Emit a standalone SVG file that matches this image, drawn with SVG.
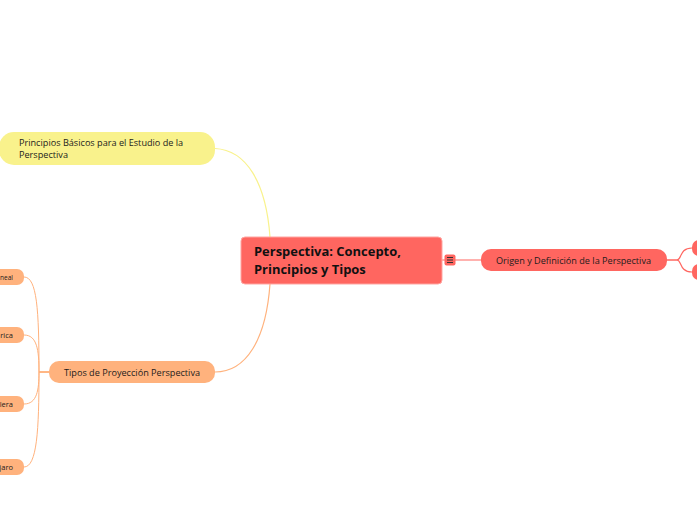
<svg xmlns="http://www.w3.org/2000/svg" width="697" height="520" viewBox="0 0 697 520">
<style>
text{font-family:"Open Sans","Noto Sans",sans-serif;fill:#1c1c1c}
.t{font-size:9.150px}
.s{font-size:7.5px}
.c{fill:none;stroke-width:1.200}
.d{fill:none;stroke-width:1}
</style>
<rect width="697" height="520" fill="#fff"/>
<g id="connectors">
<path class="c" stroke="#f9f28c" d="M215 148.500C246 150 266 182 270 237"/>
<path class="c" stroke="#ffb27d" d="M215 372C246 372 266 340 270 284"/>
<path class="c" stroke="#ff6660" d="M442 260H481"/>
<path class="c" stroke="#ff6660" d="M667 260H677C682 260 679 248 692 248"/>
<path class="c" stroke="#ff6660" d="M667 260H677C682 260 679 272 692 272"/>
<path class="d" stroke="#ffb27d" d="M49 372H39C39 310 37 277 24 277"/>
<path class="d" stroke="#ffb27d" d="M49 372H39C39 350 37 335 24 335"/>
<path class="d" stroke="#ffb27d" d="M49 372H39C39 390 37 404 24 404"/>
<path class="d" stroke="#ffb27d" d="M49 372H39C39 430 37 467 24 467"/>
</g>
<g id="central">
<rect x="241" y="237" width="201" height="47" rx="4" fill="#ff6660" stroke="#ffa5a1"/>
<text x="254" y="256" font-size="12.950" font-weight="700" style="fill:#111">Perspectiva: Concepto,</text>
<text x="254" y="274" font-size="12.950" font-weight="700" style="fill:#111">Principios y Tipos</text>
</g>
<g id="collapse">
<rect x="444.500" y="254.500" width="11" height="11" rx="2" fill="#ff6660"/>
<path d="M447 257.500H453M447 260H453M447 262.500H453" stroke="#333" stroke-width="1"/>
</g>
<g id="principios">
<rect x="-1" y="132" width="216" height="33" rx="15" fill="#f9f28c"/>
<text class="t" x="19" y="146">Principios Básicos para el Estudio de la</text>
<text class="t" x="19" y="158">Perspectiva</text>
</g>
<g id="tipos">
<rect x="49" y="361" width="166" height="22" rx="10" fill="#ffb27d"/>
<text class="t" x="64" y="376">Tipos de Proyección Perspectiva</text>
</g>
<g id="origen">
<rect x="481" y="249" width="186" height="22" rx="10" fill="#ff6660"/>
<text class="t" x="496" y="264">Origen y Definición de la Perspectiva</text>
</g>
<g id="origen-1"><rect x="692" y="240" width="30" height="16" rx="7" fill="#ff6660"/></g>
<g id="origen-2"><rect x="692" y="264" width="30" height="16" rx="7" fill="#ff6660"/></g>
<g id="tipo-1">
<rect x="-30" y="269" width="54" height="16" rx="7" fill="#ffb27d"/>
<text class="s" x="0" y="280" textLength="13" lengthAdjust="spacingAndGlyphs">neal</text>
</g>
<g id="tipo-2">
<rect x="-30" y="327" width="54" height="16" rx="7" fill="#ffb27d"/>
<text class="s" x="13" y="338" text-anchor="end">rica</text>
</g>
<g id="tipo-3">
<rect x="-30" y="396" width="54" height="16" rx="7" fill="#ffb27d"/>
<text class="s" x="13" y="407" text-anchor="end">lera</text>
</g>
<g id="tipo-4">
<rect x="-30" y="459" width="54" height="16" rx="7" fill="#ffb27d"/>
<text class="s" x="13" y="470" text-anchor="end">jaro</text>
</g>
</svg>
